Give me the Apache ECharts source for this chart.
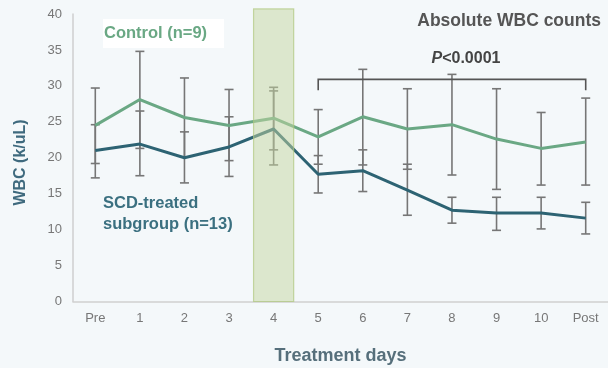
<!DOCTYPE html>
<html>
<head>
<meta charset="utf-8">
<script src="https://cdn.jsdelivr.net/npm/echarts@6/dist/echarts.min.js"></script>
<style>
html,body{margin:0;padding:0;background:#f4f8fa;}
#c{width:608px;height:368px;}
</style>
</head>
<body>
<div id="c"></div>
<script>
// ---- data ----
const categories = ['Pre','1','2','3','4','5','6','7','8','9','10','Post'];
const controlMean = [24.5, 28.1, 25.6, 24.5, 25.5, 22.9, 25.7, 24.0, 24.6, 22.6, 21.3, 22.2];
const controlHigh = [29.7, 34.8, 31.1, 29.5, 29.8, 26.7, 32.3, 29.6, 31.6, 29.6, 26.3, 28.3];
const controlLow  = [19.2, 21.3, 20.1, 19.6, 21.1, 19.1, 19.0, 18.4, 17.6, 15.6, 16.2, 16.2];
const scdMean = [21.0, 21.9, 20.0, 21.5, 24.0, 17.7, 18.2, 15.5, 12.7, 12.3, 12.3, 11.6];
const scdHigh = [24.6, 26.5, 23.6, 25.7, 29.3, 20.3, 21.1, 19.1, 14.5, 14.5, 14.5, 13.8];
const scdLow  = [17.2, 17.5, 16.5, 17.4, 19.0, 15.1, 15.3, 12.0, 10.9, 9.9, 10.1, 9.4];
const shadedDay = '4';
const bracketFrom = '5';
const bracketTo = 'Post';
const bracketLevel = 30.9;
const bracketTickEnd = 29.4;
const pText = 'P<0.0001';

const FONT = '"Liberation Sans", Arial, sans-serif';
const chart = echarts.init(document.getElementById('c'));

function errData(low, high){ return categories.map((c,i)=>[i, low[i], high[i]]); }

function errRender(params, api){
  const i = api.value(0);
  const lo = api.coord([i, api.value(1)]);
  const hi = api.coord([i, api.value(2)]);
  const cw = 4.5;
  const st = {stroke:'#767676', lineWidth:1.6};
  return {type:'group', children:[
    {type:'line', shape:{x1:lo[0],y1:lo[1],x2:hi[0],y2:hi[1]}, style:st},
    {type:'line', shape:{x1:lo[0]-cw,y1:lo[1],x2:lo[0]+cw,y2:lo[1]}, style:st},
    {type:'line', shape:{x1:hi[0]-cw,y1:hi[1],x2:hi[0]+cw,y2:hi[1]}, style:st}
  ]};
}

const option = {
  backgroundColor:'#f4f8fa',
  animation:false,
  grid:{left:73, right:0, top:14, bottom:66.5, containLabel:false, outerBoundsMode:'none'},
  title:{text:'Absolute WBC counts', right:2, top:7,
    textStyle:{fontFamily:FONT, fontSize:17.5, fontWeight:'bold', color:'#555'}},
  xAxis:{type:'category', data:categories, boundaryGap:true,
    name:'Treatment days', nameLocation:'middle', nameGap:46,
    nameTextStyle:{fontFamily:FONT, fontSize:18, fontWeight:'bold', color:'#566f7b'},
    axisLine:{lineStyle:{color:'#cfcfcf', width:1.5}},
    axisTick:{show:false},
    axisLabel:{fontFamily:FONT, fontSize:13, color:'#777', margin:10}},
  yAxis:{type:'value', min:0, max:40, interval:5,
    axisLine:{show:true, lineStyle:{color:'#cfcfcf', width:1.5}},
    axisTick:{show:false},
    splitLine:{show:false},
    axisLabel:{fontFamily:FONT, fontSize:13, color:'#777', margin:11}},
  series:[
    {type:'custom', name:'controlErr', data:errData(controlLow, controlHigh), renderItem:errRender, z:2, encode:{x:0,y:[1,2]}},
    {type:'custom', name:'scdErr', data:errData(scdLow, scdHigh), renderItem:errRender, z:2, encode:{x:0,y:[1,2]}},
    {type:'line', name:'Control (n=9)', data:controlMean, symbol:'none', z:3,
      lineStyle:{color:'#6aa884', width:3}},
    {type:'line', name:'SCD-treated subgroup (n=13)', data:scdMean, symbol:'none', z:4,
      lineStyle:{color:'#2d6373', width:3}},
    {type:'custom', name:'band', data:[[categories.indexOf(shadedDay)]], z:6,
      renderItem:function(params, api){
        const i = api.value(0);
        const b = api.coord([i, 0]);
        const t = api.coord([i, 40.7]);
        const w = api.size([1,0])[0]*0.9;
        return {type:'rect', shape:{x:b[0]-w/2, y:t[1], width:w, height:b[1]-t[1]},
          style:{fill:'rgba(196,214,160,0.5)', stroke:'rgba(175,200,125,0.7)', lineWidth:1.2}};
      }},
    {type:'custom', name:'bracket', z:5,
      data:[[categories.indexOf(bracketFrom), categories.indexOf(bracketTo), bracketLevel, bracketTickEnd]],
      renderItem:function(params, api){
        const a = api.coord([api.value(0), api.value(2)]);
        const b = api.coord([api.value(1), api.value(2)]);
        const a2 = api.coord([api.value(0), api.value(3)]);
        const mid = (a[0]+b[0])/2;
        return {type:'group', children:[
          {type:'polyline', shape:{points:[[a[0],a2[1]],[a[0],a[1]],[b[0],b[1]],[b[0],a2[1]]]},
            style:{stroke:'#555', lineWidth:1.6, fill:null}},
          {type:'text', x:mid+14, y:a[1]-21,
            style:{text:'{i|P}{n|' + pText.slice(1) + '}', align:'center', verticalAlign:'middle',
              rich:{i:{fontFamily:FONT, fontSize:16, fontWeight:'bold', fontStyle:'italic', fill:'#444'},
                    n:{fontFamily:FONT, fontSize:16, fontWeight:'bold', fill:'#444'}}}}
        ]};
      }}
  ],
  graphic:[
    {type:'rect', left:103, top:19, shape:{width:121, height:29}, style:{fill:'#ffffff'}, z:1},
    {type:'text', left:104, top:25, style:{text:'Control (n=9)', fontFamily:FONT, fontSize:16.5, fontWeight:'bold', fill:'#6aa884'}, z:2},
    {type:'text', left:103, top:193, style:{text:'SCD-treated\nsubgroup (n=13)', fontFamily:FONT, fontSize:16.5, fontWeight:'bold', fill:'#3b7080', lineHeight:21}, z:2},
    {type:'text', x:20.5, y:162.5, rotation:Math.PI/2,
      style:{text:'WBC (k/uL)', fontFamily:FONT, fontSize:16, fontWeight:'bold', fill:'#3f6a7e', align:'center', verticalAlign:'middle'}, z:2}
  ]
};
chart.setOption(option);
</script>
</body>
</html>
